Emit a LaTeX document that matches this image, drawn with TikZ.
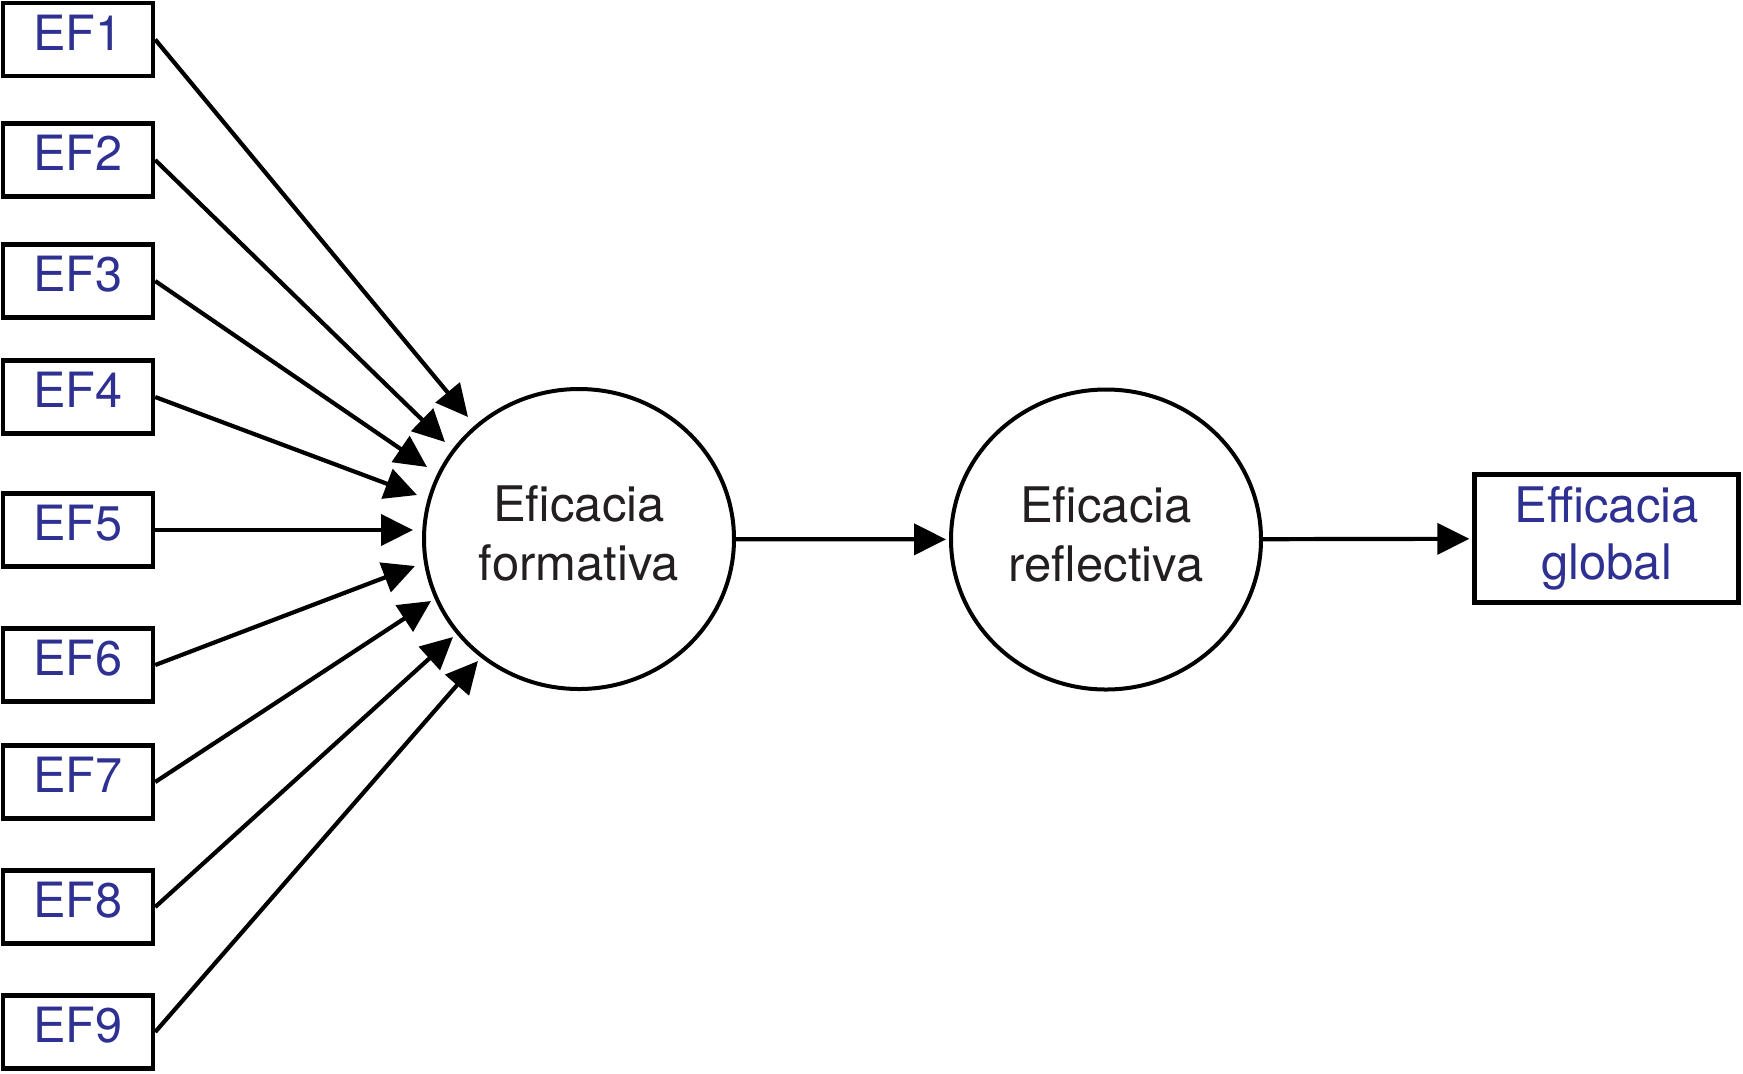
\documentclass[tikz,border=0pt]{standalone}
\usepackage{fontspec}
\setmainfont{TeX Gyre Heros}
\usetikzlibrary{arrows.meta,shapes.geometric}
\definecolor{efblue}{RGB}{46,49,146}
\definecolor{txtdark}{RGB}{35,31,32}
\begin{document}
\begin{tikzpicture}[x=0.5pt,y=-0.5pt,
  efbox/.style={draw=black,line width=2.2pt,minimum width=75pt,minimum height=36.5pt,
    inner sep=0pt,text=efblue,font=\fontsize{24.3}{30}\selectfont,text depth=7pt},
  latent/.style={draw=black,line width=2pt,ellipse,minimum width=155pt,minimum height=150pt,
    inner sep=0pt,align=center,text=txtdark,font=\fontsize{24.5}{29.5}\selectfont,text depth=5.5pt},
  outbox/.style={draw=black,line width=2.2pt,minimum width=132pt,minimum height=64pt,
    inner sep=0pt,align=center,text=efblue,font=\fontsize{24.5}{28.5}\selectfont},
  arr/.style={line width=2.1pt,-{Triangle[length=16pt,width=15.5pt]}},
]
\useasboundingbox (0,0) rectangle (1743,1073);
\node[latent] (c1) at (579,539) {Eficacia\\formativa};
\node[latent] (c2) at (1106,539.5) {Eficacia\\reflectiva};
\node[outbox] (g) at (1606.5,538.5) {Efficacia\\global};
\foreach \i/\y/\tx/\ty in {1/39.5/468/417,2/160/445/442,3/281/427/467,4/397/417/495,5/530/413/530,
  6/665/415/566,7/782/431/601,8/907/453/637,9/1032/478/661}{
  \node[efbox] (ef\i) at (78,\y) {EF\i};
  \coordinate (t\i) at (\tx,\ty);
  \draw[arr] (ef\i.east) -- (t\i);
}
\draw[arr,shorten >=1.5pt] (c1) -- (c2);
\draw[arr,shorten >=1.5pt] (c2) -- (g);
\end{tikzpicture}
\end{document}
